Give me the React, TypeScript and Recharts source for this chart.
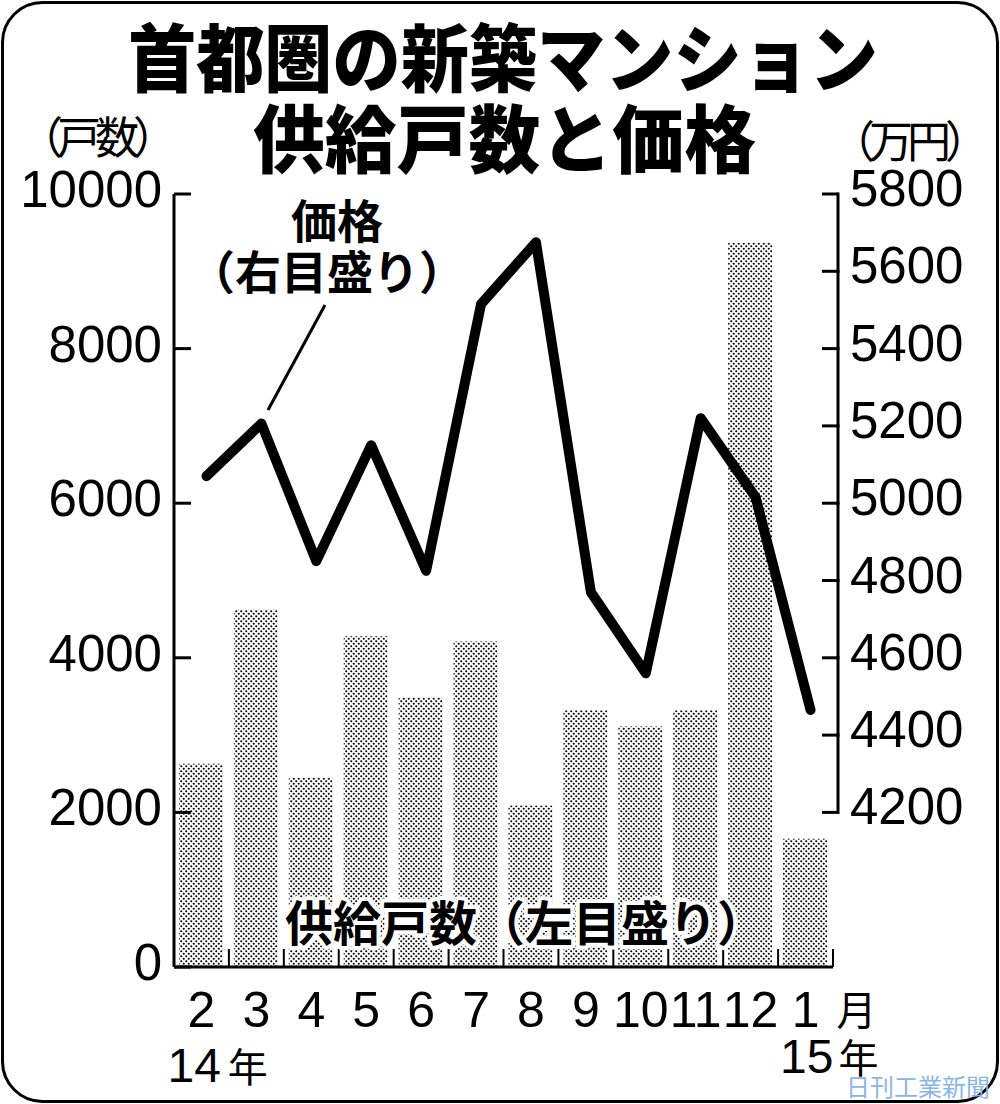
import React from 'react';
import { ComposedChart, Bar, Line, XAxis, YAxis } from 'recharts';

// 首都圏の新築マンション 月次データ（2014年2月〜2015年1月）
const months = ['2', '3', '4', '5', '6', '7', '8', '9', '10', '11', '12', '1'];
const yearMarks = ['14', '', '', '', '', '', '', '', '', '', '', '15'];
const supply = [2630, 4620, 2450, 4280, 3490, 4210, 2090, 3320, 3110, 3320, 9370, 1660];
const price = [5070, 5206, 4850, 5150, 4825, 5515, 5675, 4770, 4560, 5220, 5015, 4465];

const leftTicks = [0, 2000, 4000, 6000, 8000, 10000];
const rightTicks = [4200, 4400, 4600, 4800, 5000, 5200, 5400, 5600, 5800];
const rightDomain = [3800, 5800];

const W = 1000;
const H = 1104;
const PLOT_LEFT = 174;
const PLOT_RIGHT = 833;
const PLOT_TOP = 194;
const PLOT_BOTTOM = 967;
const PLOT_H = PLOT_BOTTOM - PLOT_TOP;
const BAND = (PLOT_RIGHT - PLOT_LEFT) / months.length;

const NUM_FONT = "'Liberation Sans', Arial, sans-serif";
const JP_FONT = "'Noto Sans CJK JP', 'Noto Sans', sans-serif";

const data = months.map((m, i) => ({ month: m, supply: supply[i], price: price[i] }));

const LeftTick = (props: any) => {
  const { x, y, payload } = props;
  return (
    <g>
      <line x1={x + 12} x2={x + 29} y1={y} y2={y} stroke="#000" strokeWidth={3} />
      <text x={x} y={y + 13} textAnchor="end" fontFamily={NUM_FONT} fontSize={51} fill="#000">
        {payload.value}
      </text>
    </g>
  );
};

const RightTick = (props: any) => {
  const { x, y, payload } = props;
  const step = (PLOT_H * 200) / (rightDomain[1] - rightDomain[0]);
  const isTop = payload.value === rightTicks[rightTicks.length - 1];
  return (
    <g>
      <line x1={x - 12} x2={x - 28} y1={y} y2={y} stroke="#000" strokeWidth={3} />
      {!isTop && <line x1={x - 12} x2={x - 12} y1={y + 1.5} y2={y - step - 1.5} stroke="#000" strokeWidth={3} />}
      <text x={x} y={y + 12} textAnchor="start" fontFamily={NUM_FONT} fontSize={51} fill="#000">
        {payload.value}
      </text>
    </g>
  );
};

const MonthTick = (props: any) => {
  const { x, y, payload, index } = props;
  const year = yearMarks[index];
  const last = index === months.length - 1;
  return (
    <g>
      <line x1={x + BAND / 2} x2={x + BAND / 2} y1={y} y2={y - 18} stroke="#000" strokeWidth={2} />
      <text x={x} y={y + 60} textAnchor="middle" fontFamily={NUM_FONT} fontSize={50} fill="#000">
        {payload.value}
      </text>
      {last && (
        <text x={x + 51} y={y + 58} textAnchor="middle" fontFamily={JP_FONT} fontSize={40} fill="#000">
          月
        </text>
      )}
      {year && (
        <text x={x + (last ? -25.5 : -34)} y={y + (last ? 106 : 115)} fontFamily={NUM_FONT} fontSize={48} fill="#000">
          {year}
          <tspan dx={last ? 5 : 7} fontFamily={JP_FONT} fontSize={40}>
            年
          </tspan>
        </text>
      )}
    </g>
  );
};

export default function App() {
  return (
    <div style={{ position: 'absolute', left: 0, top: 0, width: W, height: H, background: '#fff' }}>
      <ComposedChart
        width={W}
        height={H}
        data={data}
        margin={{ top: PLOT_TOP, right: W - PLOT_RIGHT - 150, bottom: H - PLOT_BOTTOM - 100, left: PLOT_LEFT - 150 }}
      >
        <defs>
          <pattern id="dots" patternUnits="userSpaceOnUse" width={5} height={5}>
            <rect width={5} height={5} fill="#fff" />
            <circle cx={1.25} cy={1.25} r={1.05} fill="#000" />
            <circle cx={3.75} cy={3.75} r={1.05} fill="#000" />
          </pattern>
        </defs>
        <XAxis
          xAxisId="bars"
          dataKey="month"
          height={100}
          axisLine={{ stroke: '#000', strokeWidth: 3 }}
          tickLine={false}
          tickSize={0}
          tickMargin={0}
          interval={0}
          tick={<MonthTick />}
        />
        <XAxis xAxisId="line" dataKey="month" hide padding={{ left: 5, right: -5 }} />
        <YAxis
          yAxisId="left"
          orientation="left"
          width={150}
          domain={[0, 10000]}
          ticks={leftTicks}
          interval={0}
          axisLine={{ stroke: '#000', strokeWidth: 3 }}
          tickLine={false}
          tickSize={0}
          tickMargin={12}
          tick={<LeftTick />}
        />
        <YAxis
          yAxisId="right"
          orientation="right"
          width={150}
          domain={rightDomain}
          ticks={rightTicks}
          interval={0}
          axisLine={false}
          tickLine={false}
          tickSize={0}
          tickMargin={17}
          tick={<RightTick />}
        />
        <Bar xAxisId="bars" yAxisId="left" dataKey="supply" fill="url(#dots)" barSize={44} isAnimationActive={false} />
        <Line
          xAxisId="line"
          yAxisId="right"
          dataKey="price"
          type="linear"
          stroke="#000"
          strokeWidth={10}
          strokeLinejoin="round"
          strokeLinecap="round"
          dot={false}
          activeDot={false}
          isAnimationActive={false}
        />
      </ComposedChart>
      <svg
        width={W}
        height={H}
        style={{ position: 'absolute', left: 0, top: 0, pointerEvents: 'none' }}
      >
        <rect x={2.5} y={2.5} width={W - 5} height={H - 5} rx={40} ry={40} fill="none" stroke="#000" strokeWidth={3} />
        <text
          x={128}
          y={86}
          fontFamily={JP_FONT}
          fontWeight={900}
          fontSize={74}
          textLength={750}
          lengthAdjust="spacingAndGlyphs"
          fill="#000"
        >
          首都圏の新築マンション
        </text>
        <text
          x={253}
          y={167}
          fontFamily={JP_FONT}
          fontWeight={900}
          fontSize={74}
          textLength={503}
          lengthAdjust="spacingAndGlyphs"
          fill="#000"
        >
          供給戸数と価格
        </text>
        <text x={95} y={154} textAnchor="middle" fontFamily={JP_FONT} fontSize={44} letterSpacing={-6} fill="#000">
          （戸数）
        </text>
        <text x={907} y={158} textAnchor="middle" fontFamily={JP_FONT} fontSize={44} letterSpacing={-6} fill="#000">
          （万円）
        </text>
        <text x={337} y={238} textAnchor="middle" fontFamily={JP_FONT} fontWeight={700} fontSize={46} fill="#000">
          価格
        </text>
        <text x={327} y={289} textAnchor="middle" fontFamily={JP_FONT} fontWeight={700} fontSize={46} fill="#000">
          （右目盛り）
        </text>
        <line x1={325} y1={305} x2={268} y2={410} stroke="#000" strokeWidth={3} />
        <text
          x={285}
          y={941}
          fontFamily={JP_FONT}
          fontWeight={700}
          fontSize={48}
          fill="#000"
          stroke="#fff"
          strokeWidth={8}
          strokeLinejoin="round"
          paintOrder="stroke"
        >
          供給戸数（左目盛り）
        </text>
        <text x={846} y={1096} fontFamily={JP_FONT} fontSize={24} fill="#8ab6e6">
          日刊工業新聞
        </text>
      </svg>
    </div>
  );
}
